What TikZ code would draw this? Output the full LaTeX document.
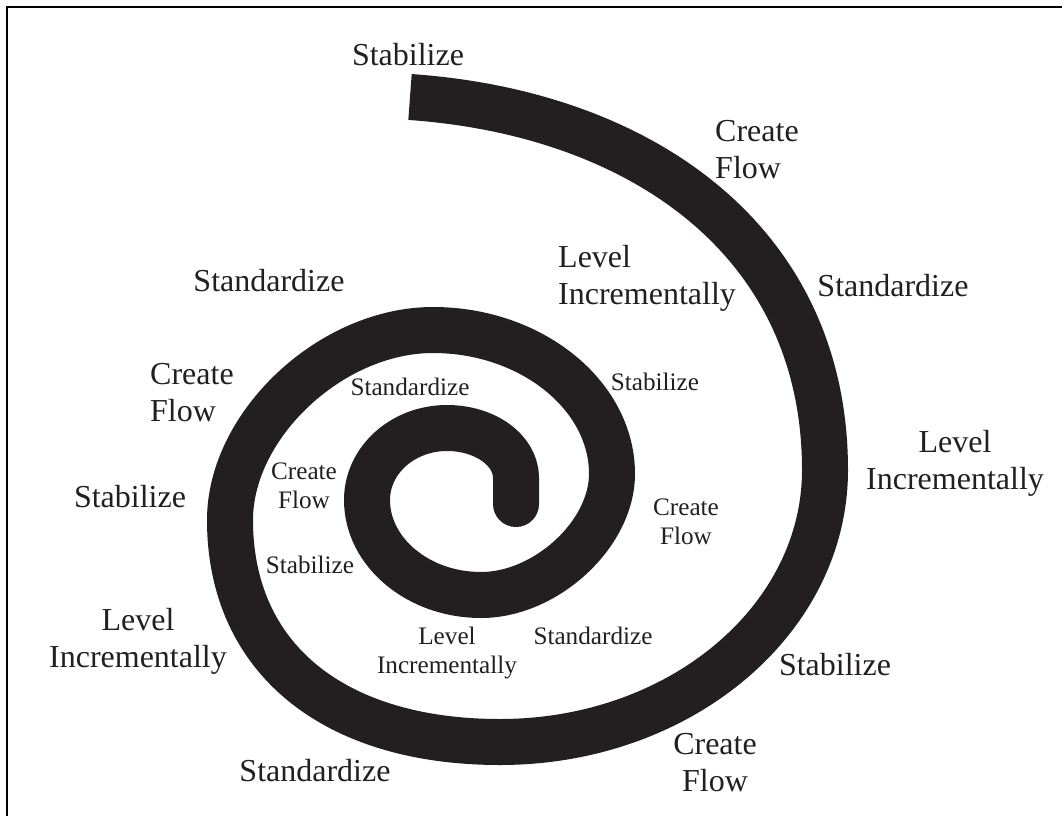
\documentclass[tikz,border=0pt]{standalone}
\usepackage{fontspec}
\setmainfont{Liberation Serif}
\usepackage{xcolor}
\definecolor{ink}{HTML}{231F20}

\begin{document}
\begin{tikzpicture}[x=1pt,y=-1pt,
    big label/.style={font=\fontsize{32}{37}\selectfont,text=ink,align=center,inner sep=0pt},
    small label/.style={font=\fontsize{25.2}{29}\selectfont,text=ink,align=center,inner sep=0pt},
    band/.style={line width=46pt,line cap=butt,line join=round,draw=ink}]

  \useasboundingbox (0,0) rectangle (1062,816);
  \draw[line width=2pt] (7,816) |- (1062,7);

  % the spiral, one quarter turn per segment
  \coordinate (s0) at (410,97);
  \coordinate (s1) at (825,470);
  \coordinate (s2) at (500,742);
  \coordinate (s3) at (230,520);
  \coordinate (s4) at (433,330);
  \coordinate (s5) at (612,474);
  \coordinate (s6) at (481,595);
  \coordinate (s7) at (367,500);
  \coordinate (s8) at (447,428);
  \coordinate (s9) at (516,478);
  \coordinate (tip) at (516,504);
  \draw[band] (s0) .. controls (640,113) and (825,240) .. (s1)
                   .. controls (825,620) and (680,742) .. (s2)
                   .. controls (333,742) and (230,658) .. (s3)
                   .. controls (230,425) and (331,330) .. (s4)
                   .. controls (531,330) and (612,395) .. (s5)
                   .. controls (612,534) and (546,595) .. (s6)
                   .. controls (418,595) and (367,552) .. (s7)
                   .. controls (367,460) and (403,428) .. (s8)
                   .. controls (485,428) and (516,450) .. (s9)
                   -- (tip);
  \fill[ink] (tip) circle[radius=23pt];

  % outer labels
  \node[big label] (stab1) at (408,55) {Stabilize};
  \node[big label,anchor=west,align=left] (flow1) at (715,150) {Create\\Flow};
  \node[big label] (std1) at (893,286) {Standardize};
  \node[big label] (lev1) at (955,463) {Level\\Incrementally};
  \node[big label] (stab2) at (835,665) {Stabilize};
  \node[big label] (flow2) at (715,763) {Create\\Flow};
  \node[big label] (std2) at (315,771) {Standardize};
  \node[big label] (lev2) at (138,641) {Level\\Incrementally};
  \node[big label] (stab3) at (130,497) {Stabilize};
  \node[big label,anchor=west,align=left] (flow3) at (150,393) {Create\\Flow};
  \node[big label] (std3) at (269,281) {Standardize};
  \node[big label,anchor=west,align=left] (lev3) at (558,278) {Level\\Incrementally};

  % inner labels
  \node[small label] (std4) at (410,387) {Standardize};
  \node[small label] (stab4) at (655,382) {Stabilize};
  \node[small label] (flow4) at (304,486) {Create\\Flow};
  \node[small label] (flow5) at (686,522) {Create\\Flow};
  \node[small label] (stab5) at (310,565) {Stabilize};
  \node[small label] (lev4) at (447,653) {Level\\Incrementally};
  \node[small label] (std5) at (593,636) {Standardize};
\end{tikzpicture}
\end{document}
